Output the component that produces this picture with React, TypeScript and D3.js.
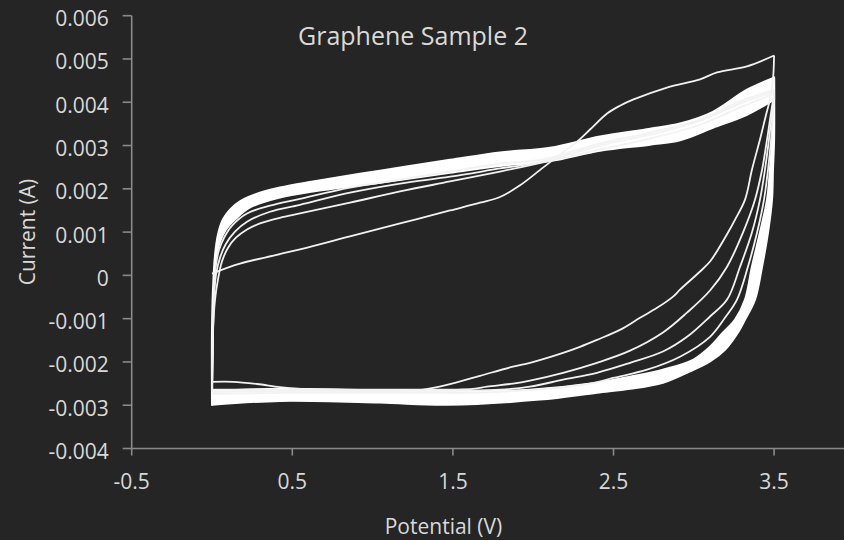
import React, { useEffect } from 'react';
import * as d3 from 'd3';

type P = [number, number];

const W = 844;
const H = 540;

const titleText = 'Graphene Sample 2';
const xTitle = 'Potential (V)';
const yTitle = 'Current (A)';

const xTicks = [-0.5, 0.5, 1.5, 2.5, 3.5];
const xTickLabels = ['-0.5', '0.5', '1.5', '2.5', '3.5'];
const yTicks = [-0.004, -0.003, -0.002, -0.001, 0, 0.001, 0.002, 0.003, 0.004, 0.005, 0.006];
const yTickLabels = ['-0.004', '-0.003', '-0.002', '-0.001', '0', '0.001', '0.002', '0.003', '0.004', '0.005', '0.006'];

// Cycle 1 (first scan) anodic and cathodic sweeps
const cycle1Anodic: P[] = [
  [0, 0.00004], [0.174, 0.00027], [0.548, 0.0006], [0.859, 0.0009], [1.171, 0.0012],
  [1.482, 0.0015], [1.669, 0.00168], [1.793, 0.00181], [1.918, 0.00208], [2.061, 0.00249],
  [2.167, 0.00279], [2.273, 0.00309], [2.354, 0.00337], [2.46, 0.00374], [2.54, 0.00392],
  [2.621, 0.00406], [2.833, 0.00434], [3.039, 0.00453], [3.145, 0.00469], [3.331, 0.00483],
  [3.5, 0.00508],
];
const cycle1Cathodic: P[] = [
  [3.5, 0.00508], [3.493, 0.00453], [3.474, 0.00406], [3.45, 0.00371], [3.412, 0.00314],
  [3.362, 0.00244], [3.319, 0.00175], [3.257, 0.00129], [3.213, 0.00099], [3.151, 0.0006],
  [3.101, 0.00032], [3.039, 0.00009], [2.914, -0.00033], [2.871, -0.00049], [2.771, -0.00075],
  [2.665, -0.00098], [2.54, -0.00126], [2.397, -0.00149], [2.291, -0.00165], [2.186, -0.00179],
  [1.98, -0.00202], [1.874, -0.00211], [1.669, -0.00232], [1.463, -0.00253], [1.314, -0.00264],
  [1.171, -0.00267], [0.859, -0.00267], [0.548, -0.00262], [0.423, -0.00258], [0.28, -0.00251],
  [0.131, -0.00246], [0, -0.00246],
];
const cycle2Anodic: P[] = [
  [0, -0.00246], [0.006, -0.00126], [0.019, -0.00056], [0.037, -0.0001], [0.062, 0.00032],
  [0.1, 0.00064], [0.149, 0.00087], [0.218, 0.00106], [0.299, 0.0012], [0.423, 0.00133],
  [0.548, 0.00143], [0.859, 0.00168], [1.171, 0.00194], [1.482, 0.00217], [1.793, 0.0024],
  [2.061, 0.00261], [2.416, 0.00291], [2.727, 0.00316], [3.039, 0.00348], [3.288, 0.00388],
  [3.5, 0.0042],
];
const cycle2Cathodic: P[] = [
  [3.5, 0.0042], [3.481, 0.00376], [3.456, 0.00314], [3.425, 0.00244], [3.381, 0.00175],
  [3.306, 0.00099], [3.207, 0.0002], [3.101, -0.00035], [2.958, -0.00086], [2.808, -0.00132],
  [2.603, -0.00174], [2.397, -0.00202], [2.186, -0.00225], [1.98, -0.00243], [1.874, -0.0025],
  [1.712, -0.00257], [1.625, -0.00262], [1.171, -0.00264], [0.548, -0.00264], [0, -0.00264],
];
const cycle3Anodic: P[] = [
  [0, -0.00264], [0.006, -0.00149], [0.012, -0.00056], [0.025, 0.00002], [0.05, 0.00041],
  [0.087, 0.00073], [0.143, 0.00101], [0.218, 0.00124], [0.361, 0.00147], [0.548, 0.00163],
  [0.859, 0.00191], [1.171, 0.00212], [1.482, 0.00228], [1.793, 0.00247], [2.061, 0.00263],
  [2.416, 0.003], [2.727, 0.00325], [3.039, 0.00357], [3.288, 0.00397], [3.5, 0.00425],
];
const cycle3Cathodic: P[] = [
  [3.5, 0.00425], [3.487, 0.00376], [3.468, 0.00314], [3.443, 0.00244], [3.412, 0.00175],
  [3.362, 0.00099], [3.288, 0.0002], [3.207, -0.00056], [3.101, -0.00095], [2.958, -0.00142],
  [2.808, -0.00176], [2.603, -0.00202], [2.397, -0.00225], [2.186, -0.00241], [1.98, -0.00257],
  [1.793, -0.00264], [1.171, -0.00267], [0.548, -0.00267], [0, -0.00269],
];
const cycle4Anodic: P[] = [
  [0, -0.00269], [0.006, -0.00126], [0.012, -0.00033], [0.025, 0.00025], [0.044, 0.00059],
  [0.075, 0.00087], [0.125, 0.00115], [0.218, 0.00143], [0.361, 0.00161], [0.548, 0.00177],
  [0.859, 0.00203], [1.171, 0.00221], [1.482, 0.0024], [1.793, 0.00258], [2.061, 0.00268],
  [2.416, 0.00305], [2.727, 0.0033], [3.039, 0.0036], [3.288, 0.00402], [3.5, 0.00429],
];
const cycle4Cathodic: P[] = [
  [3.5, 0.00429], [3.493, 0.00376], [3.481, 0.00314], [3.462, 0.00244], [3.437, 0.00175],
  [3.394, 0.00099], [3.337, 0.0002], [3.269, -0.00056], [3.194, -0.00098], [3.101, -0.00142],
  [2.914, -0.00188], [2.709, -0.00218], [2.497, -0.00237], [2.354, -0.0025], [1.793, -0.00269],
  [1.171, -0.00271], [0.548, -0.00271], [0, -0.00274],
];

// Later cycles overlap into a thick noisy band: its two edges per sweep
const bandAnodicUpper: P[] = [
  [0, -0.00299], [0, -0.00126], [0.006, -0.00033], [0.019, 0.00048], [0.037, 0.00094],
  [0.068, 0.00129], [0.112, 0.00152], [0.174, 0.00171], [0.268, 0.00187], [0.423, 0.00203],
  [0.629, 0.00217], [1.046, 0.00242], [1.482, 0.00267], [1.793, 0.00284], [2.105, 0.00295],
  [2.416, 0.00321], [2.727, 0.00339], [2.914, 0.00351], [3.119, 0.00378], [3.331, 0.00429],
  [3.5, 0.00457],
];
const bandAnodicLower: P[] = [
  [0, -0.00299], [0.006, -0.00126], [0.012, -0.00033], [0.025, 0.00041], [0.05, 0.00078],
  [0.087, 0.00106], [0.143, 0.00129], [0.237, 0.00157], [0.423, 0.0018], [0.629, 0.00194],
  [1.046, 0.00214], [1.482, 0.00237], [1.793, 0.00253], [2.105, 0.00264], [2.416, 0.00288],
  [2.727, 0.00302], [2.914, 0.00312], [3.119, 0.00341], [3.331, 0.00371], [3.5, 0.00406],
];
const bandCathodicInner: P[] = [
  [3.5, 0.00457], [3.493, 0.00376], [3.487, 0.00314], [3.474, 0.00244], [3.456, 0.00175],
  [3.412, 0.00099], [3.362, 0.0002], [3.319, -0.00056], [3.257, -0.00102], [3.182, -0.00132],
  [3.101, -0.00165], [2.995, -0.00195], [2.808, -0.00218], [2.603, -0.00234], [2.397, -0.00248],
  [1.98, -0.00264], [1.669, -0.00267], [1.252, -0.00267], [0.841, -0.00264], [0.423, -0.00262],
  [0, -0.00267],
];
const bandCathodicOuter: P[] = [
  [3.5, 0.00457], [3.5, 0.00314], [3.493, 0.00244], [3.487, 0.00175], [3.462, 0.00099],
  [3.425, 0.0002], [3.381, -0.00056], [3.319, -0.00102], [3.275, -0.00132], [3.194, -0.00172],
  [3.101, -0.00199], [2.976, -0.00222], [2.808, -0.00248], [2.603, -0.00262], [2.397, -0.00271],
  [2.042, -0.00287], [1.463, -0.00299], [1.046, -0.00294], [0.423, -0.0029], [0, -0.00299],
];

const thinCurves: P[][] = [
  cycle1Anodic, cycle1Cathodic, cycle2Anodic, cycle2Cathodic,
  cycle3Anodic, cycle3Cathodic, cycle4Anodic, cycle4Cathodic,
];
const bands: [P[], P[]][] = [
  [bandAnodicUpper, bandAnodicLower],
  [bandCathodicInner, bandCathodicOuter],
];

const FONT = "'Open Sans', 'DejaVu Sans', sans-serif";
const TEXT = '#d9d9d9';
const AXIS = '#8a8a8a';
const BG = '#252525';

export default function App() {
  useEffect(() => {
    document.body.style.margin = '0';
    document.body.style.background = BG;
  }, []);

  const x = d3.scaleLinear().domain([-0.5, 4.5]).range([131.7, 934.7]);
  const y = d3.scaleLinear().domain([-0.004, 0.006]).range([448.5, 15.7]);
  const line = d3
    .line<P>()
    .x((d) => x(d[0]))
    .y((d) => y(d[1]))
    .curve(d3.curveCatmullRom.alpha(0.5));

  // band outline: smooth edge A, then smooth edge B in reverse, closed
  const bandPath = (a: P[], b: P[]) => {
    const pa = line(a) || '';
    const pb = (line(b.slice().reverse()) || '').replace(/^M/, 'L');
    return pa + pb + 'Z';
  };

  const x0 = x(-0.5);
  const yBase = y(-0.004);

  return (
    <svg
      width={W}
      height={H}
      style={{ position: 'absolute', left: 0, top: 0, display: 'block' }}
      fontFamily={FONT}
    >
      <rect x={0} y={0} width={W} height={H} fill={BG} />

      {/* axes */}
      <line x1={x0} x2={W} y1={yBase} y2={yBase} stroke={AXIS} strokeWidth={1.6} />
      <line x1={x0} x2={x0} y1={y(0.006)} y2={yBase} stroke={AXIS} strokeWidth={1.6} />
      {yTicks.map((t, i) => (
        <g key={'y' + i}>
          <line x1={x0 - 9} x2={x0} y1={y(t)} y2={y(t)} stroke={AXIS} strokeWidth={1.6} />
          <text x={x0 - 23} y={y(t) + 10.5} textAnchor="end" fontSize={21} fill={TEXT}>
            {yTickLabels[i]}
          </text>
        </g>
      ))}
      {xTicks.map((t, i) => (
        <g key={'x' + i}>
          <line x1={x(t)} x2={x(t)} y1={yBase} y2={yBase + 7} stroke={AXIS} strokeWidth={1.6} />
          <text x={x(t)} y={489} textAnchor="middle" fontSize={21} fill={TEXT}>
            {xTickLabels[i]}
          </text>
        </g>
      ))}

      {/* data */}
      {bands.map(([a, b], i) => (
        <path
          key={'b' + i}
          d={bandPath(a, b)}
          fill="#ffffff"
          stroke="#ffffff"
          strokeWidth={2}
          strokeLinejoin="round"
        />
      ))}
      {thinCurves.map((c, i) => (
        <path
          key={'c' + i}
          d={line(c) || ''}
          fill="none"
          stroke="#f2f2f2"
          strokeWidth={1.8}
          strokeLinejoin="round"
        />
      ))}

      {/* titles */}
      <text x={413} y={45} textAnchor="middle" fontSize={25} fill={TEXT}>
        {titleText}
      </text>
      <text x={443.5} y={534} textAnchor="middle" fontSize={21} fill={TEXT}>
        {xTitle}
      </text>
      <text
        transform={`translate(35,232) rotate(-90)`}
        textAnchor="middle"
        fontSize={21}
        fill={TEXT}
      >
        {yTitle}
      </text>
    </svg>
  );
}
